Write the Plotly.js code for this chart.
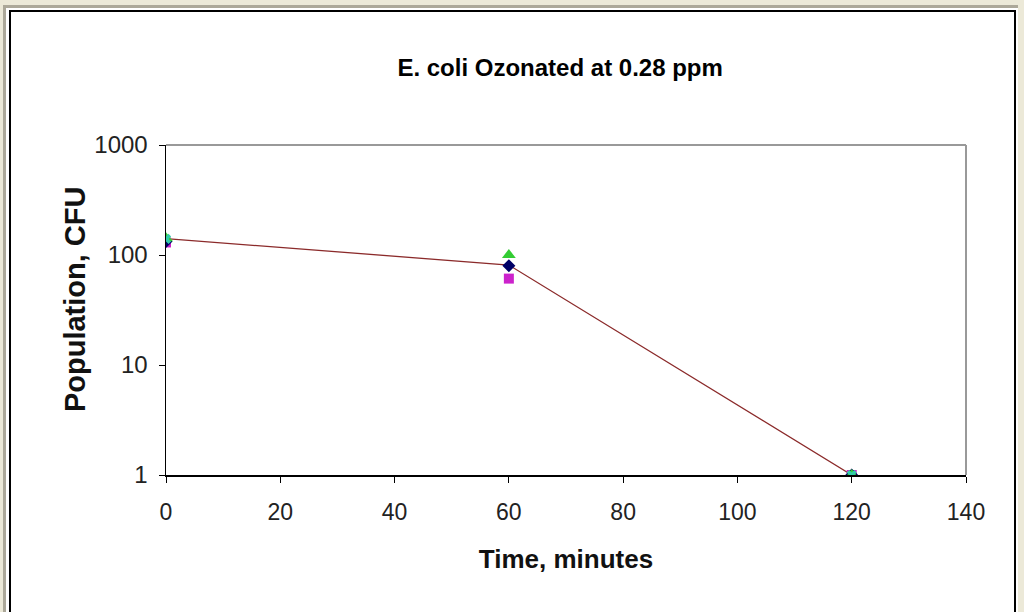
<!DOCTYPE html>
<html><head><meta charset="utf-8">
<script src="https://cdn.plot.ly/plotly-3.0.1.min.js"></script>
<style>
html,body{margin:0;padding:0;background:#ece9d8;width:1024px;height:612px;overflow:hidden;}
#outer{position:absolute;left:3px;top:5px;width:1012px;height:620px;border:3px solid #aca899;border-right:none;background:#fff;}
#inner{position:absolute;left:9px;top:10px;width:1003px;height:620px;border:2px solid #000;background:#fff;}
#chart{position:absolute;left:0;top:0;width:1024px;height:612px;}
</style></head>
<body>
<div id="outer"></div><div id="inner"></div>
<div id="chart"></div>
<script>
const timeMin = [0, 60, 120];
const trialA = [133, 80, 1];   // navy diamonds
const trialB = [130, 61, 1];   // magenta squares
const trialC = [142, 100, 1];  // green triangles
const trialD = [140, null, 1]; // teal
const average = [141, 81, 1];  // connecting line

const traces = [
  {x: timeMin, y: average, mode: 'lines', line: {color: '#8b2a2a', width: 1.3}, name: 'Average'},
  {x: timeMin, y: trialB, mode: 'markers', marker: {symbol: 'square', size: 10, color: '#cc22cc'}, name: 'Trial 2'},
  {x: timeMin, y: trialA, mode: 'markers', marker: {symbol: 'diamond', size: 10, color: '#000066'}, name: 'Trial 1'},
  {x: timeMin, y: trialC, mode: 'markers', marker: {symbol: 'triangle-up', size: 12, color: '#33cc33'}, name: 'Trial 3'},
  {x: timeMin, y: trialD, mode: 'markers', marker: {symbol: 'x', size: 9, color: '#33ccaa'}, name: 'Trial 4'}
];

const layout = {
  width: 1024, height: 612,
  margin: {l: 166, r: 58, t: 145, b: 137},
  paper_bgcolor: 'rgba(0,0,0,0)', plot_bgcolor: '#fff',
  showlegend: false,
  font: {family: 'Liberation Sans, Arial, sans-serif', color: '#222'},
  title: {text: '<b>E. coli Ozonated at 0.28 ppm</b>', font: {size: 24, color: '#000'}, x: 0.547, xanchor: 'center', y: 0.89, yanchor: 'middle'},
  xaxis: {
    range: [0, 140], dtick: 20, tick0: 0,
    showgrid: false, zeroline: false,
    showline: true, linecolor: '#000', linewidth: 1.5, mirror: false,
    ticks: 'outside', ticklen: 6, tickcolor: '#000',
    tickfont: {size: 23, color: '#222'}, ticklabelstandoff: 10,
    title: {text: '<b>Time, minutes</b>', font: {size: 26, color: '#111'}, standoff: 25}
  },
  yaxis: {
    type: 'log', range: [0, 3], dtick: 1,
    showgrid: false, zeroline: false,
    showline: true, linecolor: '#000', linewidth: 1.5,
    ticks: 'outside', ticklen: 6, tickcolor: '#000',
    tickfont: {size: 24, color: '#222'}, ticklabelstandoff: 6
  },
  annotations: [
    {text: '<b>Population, CFU</b>', xref: 'paper', yref: 'paper', x: -0.11375, y: 0.533,
     xanchor: 'center', yanchor: 'middle', textangle: -90, showarrow: false,
     font: {size: 29, color: '#111'}}
  ],
  shapes: [
    {type: 'line', xref: 'paper', yref: 'paper', x0: 0, x1: 1, y0: 1, y1: 1, line: {color: '#999', width: 2}},
    {type: 'line', xref: 'paper', yref: 'paper', x0: 1, x1: 1, y0: 0, y1: 1, line: {color: '#999', width: 2}}
  ]
};
Plotly.newPlot('chart', traces, layout, {displayModeBar: false, staticPlot: true});
</script>
</body></html>
